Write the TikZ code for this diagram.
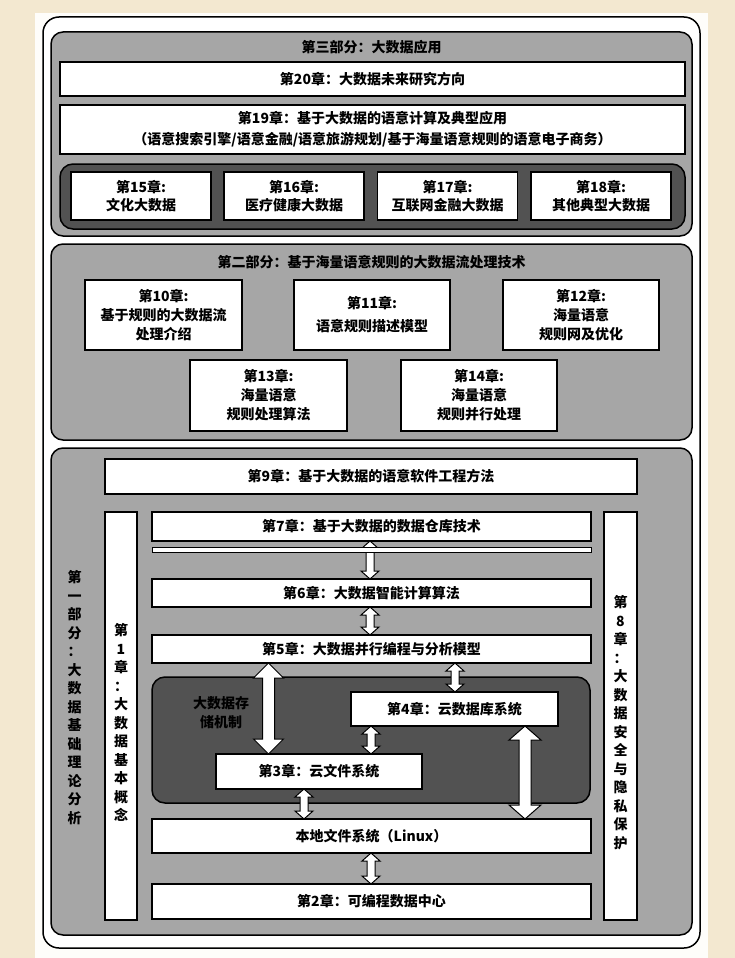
\documentclass[tikz,border=0pt]{standalone}
\usepackage{fontspec}
\setmainfont{Noto Sans CJK SC}
\usetikzlibrary{calc}
\definecolor{beige}{HTML}{F3E8D0}
\definecolor{paper}{HTML}{FEFDFA}
\definecolor{panelgray}{HTML}{A6A6A6}
\definecolor{darkgray}{HTML}{525252}
\newcommand\fatarrow[5]{%
  \draw[fatarr] let \p1=#1, \p2=#2 in
   (\x1,\y1) -- (\x1+#4,\y1-#5) -- (\x1+#3,\y1-#5) -- (\x1+#3,\y2+#5) -- (\x1+#4,\y2+#5)
   -- (\x1,\y2) -- (\x1-#4,\y2+#5) -- (\x1-#3,\y2+#5) -- (\x1-#3,\y1-#5) -- (\x1-#4,\y1-#5) -- cycle;}
\tikzset{
  panel/.style={draw=black, line width=1.5pt, fill=panelgray, rounded corners=12pt, inner sep=0pt, outer sep=0pt},
  darkpanel/.style={draw=black, line width=1.5pt, fill=darkgray, rounded corners=13pt, inner sep=0pt, outer sep=0pt},
  wbox/.style={draw=black, line width=1.4pt, fill=white, inner sep=0pt, outer sep=0pt, align=center,
     font=\fontsize{14pt}{19pt}\selectfont\bfseries},
  ttl/.style={inner sep=0pt, align=center, font=\fontsize{14pt}{19pt}\selectfont\bfseries},
  vtxt/.style={inner sep=0pt, align=center, font=\fontsize{14pt}{18.5pt}\selectfont\bfseries},
  fatarr/.style={draw=black, line width=1pt, fill=white, line join=miter},
}
\begin{document}
\begin{tikzpicture}[x=1pt,y=-1pt]
\useasboundingbox (0,0) rectangle (735,958);
\fill[beige] (0,0) rectangle (735,958);
\fill[paper] (35,13) rectangle (708,958);
\node[draw=black, line width=1.5pt, fill=white, rounded corners=16pt, minimum width=657pt, minimum height=931pt, inner sep=0pt] (outer) at (371.5,482.5) {};

% ---------- Part 3
\node[panel, minimum width=641pt, minimum height=204pt] (p3) at (371.5,134) {};
\node[ttl] (t3) at (371.5,47) {第三部分：大数据应用};
\node[wbox, minimum width=625pt, minimum height=34pt] (c20) at (372.5,79) {第20章：大数据未来研究方向};
\node[wbox, minimum width=625pt, minimum height=49pt, font=\fontsize{14pt}{21pt}\selectfont\bfseries] (c19) at (372.5,129.5)
  {第19章：基于大数据的语意计算及典型应用\\（语意搜索引擎/语意金融/语意旅游规划/基于海量语意规则的语意电子商务）};
\node[darkpanel, minimum width=625pt, minimum height=65pt] (d3) at (372.5,196.5) {};
\node[wbox, minimum width=140pt, minimum height=48pt, font=\fontsize{14pt}{18pt}\selectfont\bfseries] (c15) at (141,196) {第15章:\\文化大数据};
\node[wbox, minimum width=140pt, minimum height=48pt, font=\fontsize{14pt}{18pt}\selectfont\bfseries] (c16) at (294,196) {第16章:\\医疗健康大数据};
\node[wbox, minimum width=140pt, minimum height=48pt, font=\fontsize{14pt}{18pt}\selectfont\bfseries] (c17) at (447.5,196) {第17章:\\互联网金融大数据};
\node[wbox, minimum width=140pt, minimum height=48pt, font=\fontsize{14pt}{18pt}\selectfont\bfseries] (c18) at (601,196) {第18章:\\其他典型大数据};

% ---------- Part 2
\node[panel, minimum width=641pt, minimum height=196pt] (p2) at (371.5,342) {};
\node[ttl] (t2) at (371.5,262) {第二部分：基于海量语意规则的大数据流处理技术};
\node[wbox, minimum width=157pt, minimum height=70pt] (c10) at (163.5,315) {第10章:\\基于规则的大数据流\\处理介绍};
\node[wbox, minimum width=156pt, minimum height=70pt, font=\fontsize{14pt}{23pt}\selectfont\bfseries] (c11) at (372,315) {第11章:\\语意规则描述模型};
\node[wbox, minimum width=156pt, minimum height=70pt] (c12) at (581,315) {第12章:\\海量语意\\规则网及优化};
\node[wbox, minimum width=157pt, minimum height=71pt] (c13) at (268.5,395.5) {第13章:\\海量语意\\规则处理算法};
\node[wbox, minimum width=156pt, minimum height=71pt] (c14) at (479,395.5) {第14章:\\海量语意\\规则并行处理};

% ---------- Part 1
\node[panel, minimum width=641pt, minimum height=487pt] (p1) at (371.5,691.5) {};
\node[vtxt] (t1) at (74.5,697.5) {第\\一\\部\\分\\：\\大\\数\\据\\基\\础\\理\\论\\分\\析};
\node[wbox, minimum width=532pt, minimum height=35pt] (c9) at (371,476.5) {第9章：基于大数据的语意软件工程方法};
\node[wbox, minimum width=32pt, minimum height=408pt] (c1) at (121,716) {};
\node[vtxt] (c1t) at (121,722.5) {第\\1\\章\\：\\大\\数\\据\\基\\本\\概\\念};
\node[wbox, minimum width=33pt, minimum height=408pt] (c8) at (620.5,716) {};
\node[vtxt] (c8t) at (620.5,722.5) {第\\8\\章\\：\\大\\数\\据\\安\\全\\与\\隐\\私\\保\\护};
\node[wbox, minimum width=439pt, minimum height=29pt] (c7) at (371.5,526.5) {第7章：基于大数据的数据仓库技术};
\node[wbox, minimum width=439pt, minimum height=28pt] (c6) at (371.5,593) {第6章：大数据智能计算算法};
\node[wbox, minimum width=439pt, minimum height=28pt] (c5) at (371.5,649) {第5章：大数据并行编程与分析模型};
\node[darkpanel, minimum width=438pt, minimum height=126pt] (d1) at (371,740) {};
\node[ttl] (store) at (221,712.5) {大数据存\\储机制};
\node[wbox, minimum width=207pt, minimum height=34pt] (c4) at (454.5,709) {第4章：云数据库系统};
\node[wbox, minimum width=206pt, minimum height=35pt] (c3) at (319,771.5) {第3章：云文件系统};
\node[wbox, minimum width=439pt, minimum height=34pt] (lfs) at (371.5,836) {本地文件系统（Linux）};
\node[wbox, minimum width=439pt, minimum height=35pt] (c2) at (371.5,901.5) {第2章：可编程数据中心};

% ---------- arrows
\coordinate (xa) at (370,0);
\coordinate (xb) at (455,0);
\coordinate (xc) at (268.5,0);
\coordinate (xd) at (525,0);
\coordinate (xe) at (304,0);
\coordinate (xf) at (371,0);
\fatarrow{(xa |- c7.south)}{(xa |- c6.north)}{4pt}{9pt}{8pt}
\node[draw=black, line width=1pt, fill=white, minimum width=439pt, minimum height=5pt, inner sep=0pt] (bar) at (371.5,549.5) {};
\fatarrow{(xa |- c6.south)}{(xa |- c5.north)}{4pt}{9pt}{8pt}
\fatarrow{(xb |- c5.south)}{(xb |- c4.north)}{4pt}{9pt}{8pt}
\fatarrow{(xc |- c5.south)}{(xc |- c3.north)}{6pt}{15pt}{15pt}
\fatarrow{(xf |- c4.south)}{(xf |- c3.north)}{4pt}{9pt}{8pt}
\fatarrow{(xd |- c4.south)}{(xd |- lfs.north)}{6pt}{16pt}{14pt}
\fatarrow{(xe |- c3.south)}{(xe |- lfs.north)}{4pt}{9pt}{8pt}
\fatarrow{(xf |- lfs.south)}{(xf |- c2.north)}{4pt}{9pt}{8pt}
\end{tikzpicture}
\end{document}
